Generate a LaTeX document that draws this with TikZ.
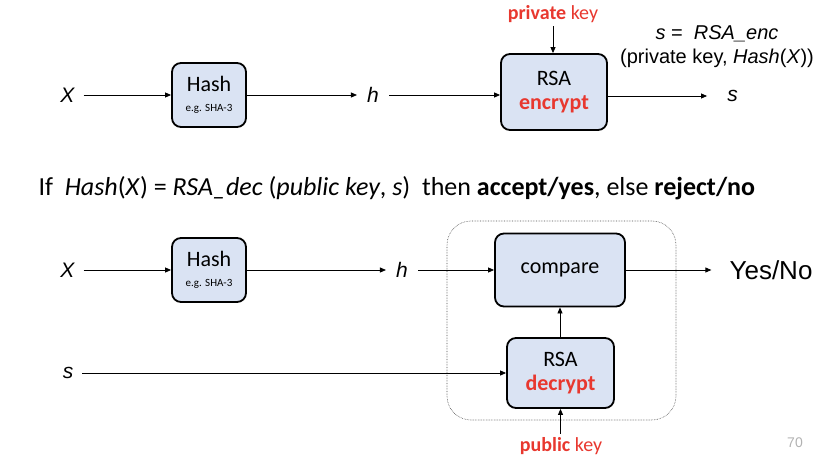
\documentclass[tikz,border=0pt]{standalone}
\usepackage{fontspec}
\setmainfont{Carlito}
\newfontfamily\arialf{Liberation Sans}
\usetikzlibrary{arrows.meta}
\definecolor{boxfill}{HTML}{DAE3F3}
\definecolor{keyred}{HTML}{E8382F}
\begin{document}
\begin{tikzpicture}[x=1pt,y=-1pt,
  blk/.style={draw=black,line width=1.8pt,rounded corners=9pt,fill=boxfill,inner sep=0pt,align=center,font=\fontsize{22}{24}\selectfont},
  arr/.style={-{Triangle[length=6pt,width=5pt]},line width=0.8pt},
  var/.style={font=\arialf\itshape\fontsize{21}{24}\selectfont,inner sep=9pt},
  lbl/.style={font=\fontsize{20}{22}\selectfont,align=center}]
\useasboundingbox (0,0) rectangle (836,460);
% ---- top row ----
\node[var] (X1) at (67.5,95) {X};
\node[blk,minimum width=74pt,minimum height=64pt] (hash1) at (209,95) {Hash\\[-4pt]{\fontsize{11}{12}\selectfont e.g. SHA-3}};
\node[var,inner sep=10pt] (h1) at (373,95) {h};
\node[blk,minimum width=106pt,minimum height=76pt] (enc) at (554,92) {RSA\\[0pt]\textcolor{keyred}{\bfseries encrypt}};
\node[lbl] (priv) at (553,14) {\textcolor{keyred}{\bfseries private} \textcolor{keyred}{key}};
\node[var,inner sep=20pt] (s1) at (732.5,96) {s};
\node[font=\arialf\fontsize{20}{24}\selectfont,align=center] (form) at (717,47) {\textit{s} =~ \textit{RSA\_enc}\\(private key, \textit{Hash}(\textit{X}))};
\draw[arr] (X1) -- (hash1);
\draw[arr] (hash1) -- (h1);
\draw[arr] (h1) -- (enc.west|-h1);
\draw[arr] (priv) -- (enc.north-|priv);
\draw[arr] (enc.east|-s1) -- (s1);
% ---- middle line ----
\node[anchor=west,font=\fontsize{26}{28}\selectfont] (cond) at (35,188) {If~ \textit{Hash}(\textit{X}) = \textit{RSA\_dec} (\textit{public key}, \textit{s})~ then \textbf{accept/yes}, else \textbf{reject/no}};
% ---- bottom row ----
\node[draw=black!70,densely dotted,line width=0.6pt,rounded corners=24pt,minimum width=229pt,minimum height=199pt] (cont) at (561.5,320.5) {};
\node[var] (X2) at (67.5,270) {X};
\node[blk,minimum width=74pt,minimum height=64pt] (hash2) at (209,270) {Hash\\[-4pt]{\fontsize{11}{12}\selectfont e.g. SHA-3}};
\node[var,inner sep=10pt] (h2) at (402,270) {h};
\node[blk,minimum width=130pt,minimum height=73pt] (cmp) at (560,270) {compare};
\node[blk,minimum width=107pt,minimum height=70pt] (dec) at (560.5,373) {RSA\\[0pt]\textcolor{keyred}{\bfseries decrypt}};
\node[var,inner sep=9pt] (s2) at (68,373) {s};
\node[lbl] (pub) at (561,446) {\textcolor{keyred}{\bfseries public} \textcolor{keyred}{key}};
\node[font=\arialf\fontsize{26}{28}\selectfont,inner sep=18pt] (yn) at (771,270) {Yes/No};
\node[font=\arialf\fontsize{14}{16}\selectfont,text=black!30] (pg) at (795,443) {70};
\draw[arr] (X2) -- (hash2);
\draw[arr] (hash2) -- (h2);
\draw[arr] (h2) -- (cmp.west|-h2);
\draw[arr] (s2.east|-dec.west) -- (dec.west);
\draw[arr] (dec.north-|cmp) -- (cmp.south);
\draw[arr] (pub.north-|dec) -- (dec.south);
\draw[arr] (cmp.east) -- (yn.west|-cmp.east);
\end{tikzpicture}
\end{document}
